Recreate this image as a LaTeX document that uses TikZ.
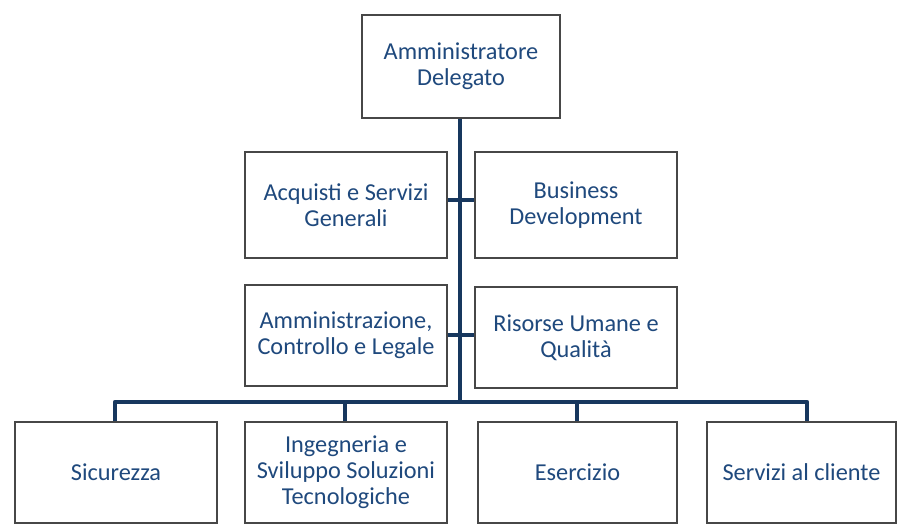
\documentclass[tikz,border=0pt]{standalone}
\usepackage{fontspec}
\setmainfont{Carlito}
\definecolor{txtblue}{RGB}{31,73,125}
\definecolor{linenavy}{RGB}{23,55,94}
\begin{document}
\begin{tikzpicture}[x=1pt,y=-1pt,
  orgbox/.style={draw=black!72, line width=1.3pt, fill=white, inner sep=0pt,
    text=txtblue, align=center, font=\fontsize{24.3}{26}\selectfont},
  conn/.style={draw=linenavy, line width=4.5pt}]
\useasboundingbox (0,0) rectangle (898,527);
\fill[white] (0,0) rectangle (898,527);
% boxes
\node[orgbox, minimum width=198pt, minimum height=103pt] (ad) at (461,66.5) {Amministratore\\Delegato};
\node[orgbox, minimum width=202pt, minimum height=106pt] (acq) at (346,205) {Acquisti e Servizi\\Generali};
\node[orgbox, minimum width=202pt, minimum height=106pt] (bd) at (576,205) {Business\\Development};
\node[orgbox, minimum width=202pt, minimum height=101pt] (amm) at (346,335.5) {Amministrazione,\\Controllo e Legale};
\node[orgbox, minimum width=202pt, minimum height=101pt] (rum) at (576,337.5) {Risorse Umane e\\Qualità};
\node[orgbox, minimum width=202pt, minimum height=101pt] (sic) at (116,472.5) {Sicurezza};
\node[orgbox, minimum width=202pt, minimum height=101pt] (ing) at (346,472.5) {Ingegneria e\\Sviluppo Soluzioni\\Tecnologiche};
\node[orgbox, minimum width=199pt, minimum height=101pt] (ese) at (577.5,472.5) {Esercizio};
\node[orgbox, minimum width=189pt, minimum height=101pt] (srv) at (801.5,472.5) {Servizi al cliente};
% connectors
\coordinate (bus) at (460,402);
\coordinate (busL) at (115,402);
\coordinate (busR) at (807,402);
\draw[conn] (ad.south -| bus) -- (bus);
\draw[conn] (acq.east |- 0,200) -- (bd.west |- 0,200);
\draw[conn] (amm.east |- 0,335) -- (rum.west |- 0,335);
\draw[conn, line join=round] (busL |- sic.north) -- (busL) -- (busR) -- (busR |- srv.north);
\draw[conn] (ing.north -| 345,0) -- (345,402);
\draw[conn] (ese.north -| 577,0) -- (577,402);
\end{tikzpicture}
\end{document}
